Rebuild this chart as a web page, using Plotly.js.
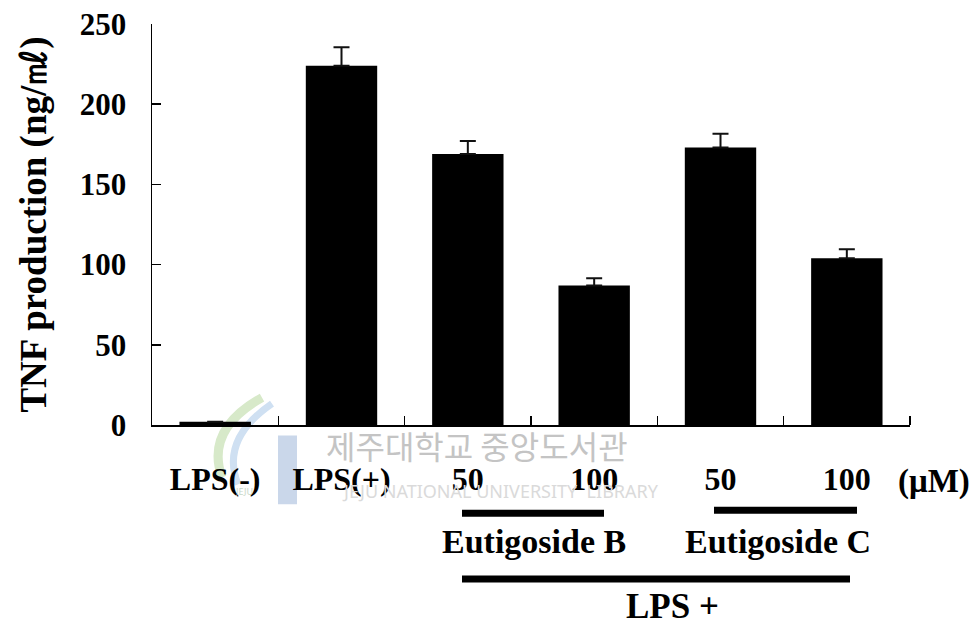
<!DOCTYPE html>
<html>
<head>
<meta charset="utf-8">
<script src="https://cdn.plot.ly/plotly-3.0.1.min.js"></script>
<style>html,body{margin:0;padding:0;background:#fff;}#chart{width:978px;height:625px;}</style>
</head>
<body>
<div id="chart"></div>
<script>
// ---- data ----
const groups = ["LPS(-)", "LPS(+)", "50", "100", "50", "100"];
const tnfValues = [2, 224, 169, 87, 173, 104];
const tnfErrors = [0, 11.5, 8, 4.5, 8.5, 5.5];
const yTicks = [0, 50, 100, 150, 200, 250];
const unitLabel = "(μM)";
const compoundB = "Eutigoside B";
const compoundC = "Eutigoside C";
const lpsLabel = "LPS +";

// ---- layout helpers (pixel -> paper) ----
const W = 978, H = 625;
const M = {l: 152, r: 68, t: 23.5, b: 199.5};
const PW = W - M.l - M.r, PH = H - M.t - M.b;
const px = x => (x - M.l) / PW;
const py = y => (H - M.b - y) / PH;

const xIdx = groups.map((g, i) => i);
const font = "Liberation Serif, Times New Roman, serif";

const trace = {
  type: "bar",
  x: xIdx,
  y: tnfValues,
  width: 0.565,
  marker: {color: "#000", line: {width: 0}},
  error_y: {type: "data", symmetric: false, array: tnfErrors, arrayminus: tnfErrors.map(() => 0),
            color: "#111", thickness: 2, width: 8},
  hoverinfo: "skip"
};

const ann = [];
const addText = (text, x, y, size, extra) => ann.push(Object.assign({
  text: text, xref: "paper", yref: "paper", x: px(x), y: py(y), xanchor: "center", yanchor: "middle",
  showarrow: false, font: {family: font, size: size, color: "#000", weight: "bold"}
}, extra || {}));

// watermark
addText("제주대학교 중앙도서관", 477, 446, 32, {font: {family: "Noto Sans CJK KR", size: 32, color: "#c4c4c4"}});
addText("JEJU NATIONAL UNIVERSITY  LIBRARY", 500, 492, 18, {font: {family: "Noto Sans", size: 18, color: "#dadada"}});
addText("JEJU", 244, 492, 9, {font: {family: "Noto Sans", size: 9, color: "#c8d8c8"}});

addText(unitLabel, 934, 482, 33);
addText(compoundB, 534, 542, 34);
addText(compoundC, 778, 542, 34);
addText(lpsLabel, 672, 607, 35);

const line = (x0, x1, y, w) => ({type: "line", xref: "paper", yref: "paper",
  x0: px(x0), x1: px(x1), y0: py(y), y1: py(y), line: {color: "#000", width: w}, layer: "above"});

const P = (pts) => "M" + pts.map(p => px(p[0]) + "," + py(p[1])).join(" L");
const shapes = [
  line(462, 604, 514, 7),
  line(714, 857, 511, 7),
  line(462, 850, 580, 7),
  // watermark logo (faint)
  {type: "path", xref: "paper", yref: "paper", layer: "below",
   path: "M" + px(262) + "," + py(398) + " Q" + px(205) + "," + py(430) + " " + px(222) + "," + py(478),
   line: {color: "#d7e9c9", width: 9}},
  {type: "path", xref: "paper", yref: "paper", layer: "below",
   path: "M" + px(272) + "," + py(404) + " Q" + px(220) + "," + py(440) + " " + px(238) + "," + py(485),
   line: {color: "#cfe0f2", width: 7}},
  {type: "path", xref: "paper", yref: "paper", layer: "below",
   path: P([[278,436],[297,436],[297,505],[278,505]]) + " Z",
   fillcolor: "#cad7ea", line: {width: 0}}
];

const layout = {
  width: W, height: H,
  margin: M,
  paper_bgcolor: "#fff", plot_bgcolor: "#fff",
  showlegend: false,
  bargap: 0.44,
  font: {family: font, color: "#000"},
  xaxis: {
    range: [-0.5, 5.5], tickvals: xIdx, ticktext: groups, ticks: "", showgrid: false, zeroline: false,
    showline: true, linecolor: "#000", linewidth: 1.5,
    tickfont: {family: font, size: 32, color: "#000", weight: "bold"},
    ticklabelstandoff: 25,
    minor: {tickvals: [0.5, 1.5, 2.5, 3.5, 4.5, 5.5], ticks: "inside", ticklen: 9, tickcolor: "#000", tickwidth: 1.5, showgrid: false},
    fixedrange: true
  },
  yaxis: {
    range: [0, 250], tickvals: yTicks, ticks: "inside", ticklen: 9, tickwidth: 1.5, tickcolor: "#000",
    showgrid: false, zeroline: false, showline: true, linecolor: "#000", linewidth: 1.5,
    tickfont: {family: font, size: 31, color: "#000", weight: "bold"},
    ticklabelstandoff: 18,
    title: {text: "TNF production (ng/㎖)", font: {family: font, size: 37, color: "#000", weight: "bold"}, standoff: 22},
    fixedrange: true
  },
  annotations: ann,
  shapes: shapes
};

Plotly.newPlot("chart", [trace], layout, {displayModeBar: false, staticPlot: true});
</script>
</body>
</html>
